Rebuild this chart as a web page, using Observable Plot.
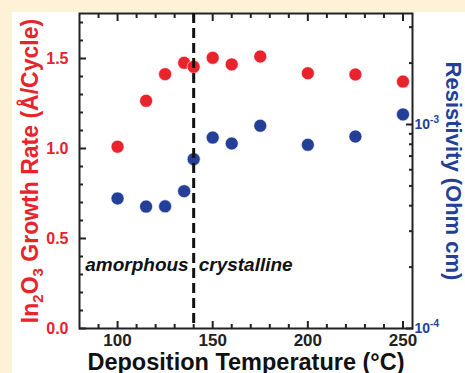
<!DOCTYPE html>
<html><head><meta charset="utf-8">
<script src="https://cdn.jsdelivr.net/npm/d3@7"></script>
<script src="https://cdn.jsdelivr.net/npm/@observablehq/plot@0.6"></script>
<style>
html,body{margin:0;padding:0;background:#fdf2d6;}
#wrap{position:relative;width:465px;height:373px;overflow:hidden;}
#paper{position:absolute;left:12px;top:12px;right:0;bottom:0;background:#fff;}
#wrap svg{position:absolute;left:0;top:0;}
</style></head><body><div id="wrap"><div id="paper"></div></div>
<script>
// ---- data ----
const temperatures = [100, 115, 125, 135, 140, 150, 160, 175, 200, 225, 250];
const growthRate   = [1.01, 1.265, 1.413, 1.476, 1.454, 1.504, 1.467, 1.511, 1.418, 1.411, 1.372];
const resistivity  = [4.34e-4, 3.96e-4, 3.97e-4, 4.71e-4, 6.76e-4, 8.63e-4, 8.07e-4, 9.86e-4, 7.95e-4, 8.73e-4, 1.12e-3];
const xMajorTicks = [100, 150, 200, 250];
const xMinorTicks = [90, 110, 120, 130, 140, 160, 170, 180, 190, 210, 220, 230, 240];
const yLeftMajorTicks = [0, 0.5, 1.0, 1.5];
const yLeftMinorTicks = [0.1, 0.2, 0.3, 0.4, 0.6, 0.7, 0.8, 0.9, 1.1, 1.2, 1.3, 1.4, 1.6, 1.7];
const yRightMajorTicks = [1e-4, 1e-3];
const yRightMinorTicks = [2e-4, 3e-4, 4e-4, 5e-4, 6e-4, 7e-4, 8e-4, 9e-4, 2e-3, 3e-3];
const transitionTemp = [140];
const phaseLabels = ["amorphous", "crystalline"];
const xLabel = "Deposition Temperature (°C)";
const growthLabel = "In2O3 Growth Rate (Å/Cycle)";
const resistLabel = "Resistivity (Ohm cm)";

const growthData = temperatures.map((t, i) => ({t, v: growthRate[i]}));
const resistData = temperatures.map((t, i) => ({t, v: resistivity[i]}));

const RED = "#e8232b", BLUE = "#233f98", INK = "#222";
const W = 465, H = 373;
const M = {marginLeft: 79, marginRight: 53, marginTop: 13, marginBottom: 45};
const FONT = "'Liberation Sans', Arial, Helvetica, sans-serif";
const xDomain = [80, 255];
const tickStyle = {fill: "none", stroke: INK, strokeWidth: 2, label: null};

const plotA = Plot.plot({
  width: W, height: H, ...M,
  style: {background: "transparent", fontFamily: FONT, fontWeight: "bold", overflow: "visible"},
  x: {domain: xDomain, axis: null},
  y: {domain: [0, 1.75], axis: null},
  marks: [
    Plot.axisX({anchor: "bottom", ticks: xMajorTicks, tickSize: 7, dy: -7, ...tickStyle}),
    Plot.axisX({anchor: "bottom", ticks: xMinorTicks, tickSize: 4, dy: -4, ...tickStyle}),
    Plot.axisX({anchor: "top", ticks: xMajorTicks, tickSize: 7, dy: 7, ...tickStyle}),
    Plot.axisX({anchor: "top", ticks: xMinorTicks, tickSize: 4, dy: 4, ...tickStyle}),
    Plot.axisX({anchor: "bottom", ticks: xMajorTicks, tickSize: 0, tickPadding: 5, fill: INK, fontSize: 17, fontWeight: "bold", tickFormat: d3.format("d"), label: null}),
    Plot.axisY({anchor: "left", ticks: yLeftMajorTicks, tickSize: 7, dx: 7, ...tickStyle}),
    Plot.axisY({anchor: "left", ticks: yLeftMinorTicks, tickSize: 4, dx: 4, ...tickStyle}),
    Plot.axisY({anchor: "left", ticks: yLeftMajorTicks, tickSize: 0, tickPadding: 11, fill: RED, fontSize: 16, fontWeight: "bold", tickFormat: d3.format(".1f"), label: null}),
    Plot.frame({stroke: INK, strokeWidth: 2}),
    Plot.dot(growthData, {x: "t", y: "v", r: 6.5, fill: RED, stroke: "white", strokeWidth: 0.6}),
    Plot.text([phaseLabels[0]], {x: transitionTemp[0], y: 0.356, dx: -5, textAnchor: "end", fontSize: 19, fontWeight: "bold", fontStyle: "italic", fill: "#111"}),
    Plot.text([phaseLabels[1]], {x: transitionTemp[0], y: 0.356, dx: 5, textAnchor: "start", fontSize: 19, fontWeight: "bold", fontStyle: "italic", fill: "#111"}),
    Plot.text([xLabel], {frameAnchor: "bottom", dy: 41, lineAnchor: "bottom", textAnchor: "middle", fontSize: 23.5, fontWeight: "bold", fill: "#111"}),
    Plot.text([growthLabel], {frameAnchor: "left", dx: -42, rotate: -90, lineAnchor: "bottom", textAnchor: "middle", fontSize: 23, fontWeight: "bold", fill: RED})
  ]
});

const plotB = Plot.plot({
  width: W, height: H, ...M,
  style: {background: "transparent", fontFamily: FONT, fontWeight: "bold", overflow: "visible"},
  x: {domain: xDomain, axis: null},
  y: {type: "log", domain: [1e-4, 3.5e-3], axis: null},
  marks: [
    Plot.axisY({anchor: "right", ticks: yRightMajorTicks, tickSize: 7, dx: -7, ...tickStyle}),
    Plot.axisY({anchor: "right", ticks: yRightMinorTicks, tickSize: 4, dx: -4, ...tickStyle}),
    Plot.axisY({anchor: "right", ticks: yRightMajorTicks, tickSize: 0, tickPadding: 2, fill: BLUE, fontSize: 14, fontWeight: "bold",
      tickFormat: d => "10" + Math.round(Math.log10(d)), label: null}),
    Plot.dot(resistData, {x: "t", y: "v", r: 6.5, fill: BLUE, stroke: "white", strokeWidth: 0.6}),
    Plot.ruleX(transitionTemp, {stroke: "#111", strokeWidth: 3, strokeDasharray: "10,5"}),
    Plot.text([resistLabel], {frameAnchor: "right", dx: 33, rotate: 90, lineAnchor: "bottom", textAnchor: "middle", fontSize: 22, fontWeight: "bold", fill: BLUE})
  ]
});

const wrap = document.getElementById("wrap");
wrap.appendChild(plotA);
wrap.appendChild(plotB);

// subscripts in the growth-rate label
d3.select(plotA).selectAll("text").filter(function(){ return this.textContent === growthLabel; }).each(function(){
  const t = d3.select(this); t.text(null);
  t.append("tspan").text("In");
  t.append("tspan").attr("dy", 5).attr("font-size", 15).text("2");
  t.append("tspan").attr("dy", -5).text("O");
  t.append("tspan").attr("dy", 5).attr("font-size", 15).text("3");
  t.append("tspan").attr("dy", -5).text(" Growth Rate (Å/Cycle)");
});
// superscripts in the log tick labels
d3.select(plotB).selectAll("text").filter(function(){ return /^10-\d+$/.test(this.textContent); }).each(function(){
  const t = d3.select(this); const s = this.textContent; t.text(null);
  t.append("tspan").text("10");
  t.append("tspan").attr("dy", -6).attr("font-size", 10).text(s.slice(2));
});
</script></body></html>
